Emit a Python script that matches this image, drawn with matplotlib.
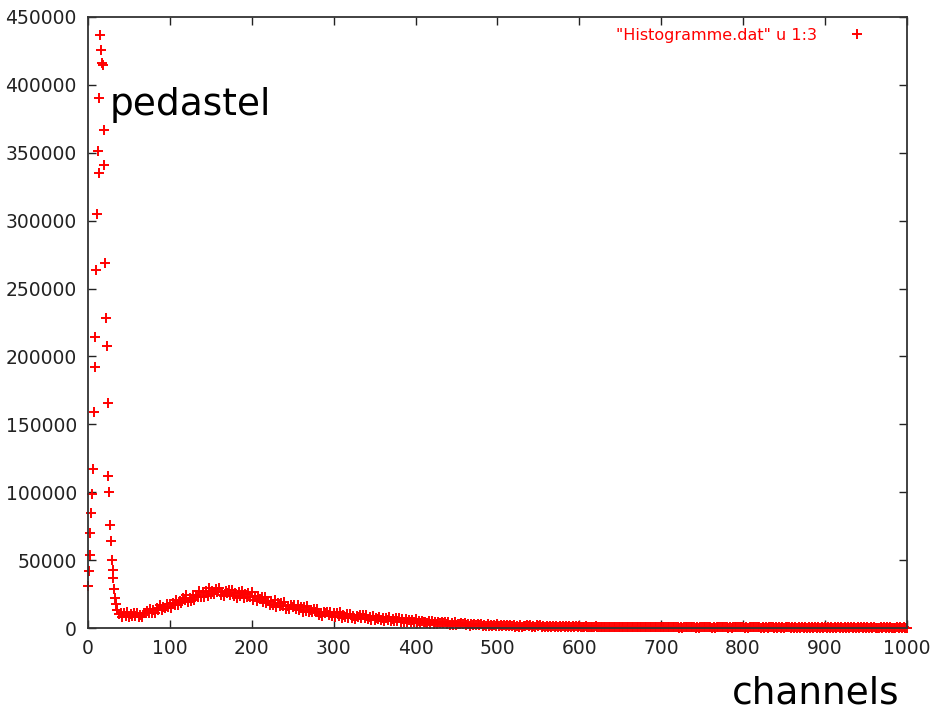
import matplotlib
matplotlib.use("Agg")
import matplotlib.pyplot as plt

plt.rcParams['font.family'] = ['DejaVu Sans']

# pedestal, channels 0..35
ped_channels = list(range(0, 36))
ped_counts = [31000, 42000, 54000, 70000, 85000, 99000, 117000, 159000, 192000, 214000,
              264000, 305000, 351000, 335000, 390000, 437000, 426000, 416000, 415000, 367000,
              341000, 269000, 228000, 208000, 166000, 112000, 100000, 76000, 64000, 50000,
              43000, 37000, 28500, 22000, 18000, 13000]

# rest of the spectrum, channels 36..1000 every 2
rest_channels = list(range(36, 1001, 2))
rest_counts = [
    13600, 10100, 11400, 8400, 11100,  9100, 11800, 8000, 10000, 9000,
    10700, 9100, 11400, 8300, 9800,  8200, 11000, 10700, 12700, 10700,
    13800, 11200, 13000, 11300, 14700,  13100, 16600, 13400, 15600, 14900,
    17900, 15500, 17600, 14700, 18400,  16600, 21000, 16600, 19900, 18200,
    22200, 20300, 24200, 19300, 22400,  20000, 24300, 21000, 24000, 22500,
    27000, 23000, 26200, 22700, 27000,  23700, 29400, 24700, 27300, 25300,
    28600, 26200, 29500, 24600, 26800,  23600, 27500, 25800, 27700, 24100,
    27800, 23400, 26000, 21800, 26300,  23400, 27600, 22000, 24800, 23100,
    25600, 23200, 26300, 20900, 23300,  19800, 23400, 21500, 23100, 19300,
    22800, 18400, 20100, 16800, 20200,  17200, 21000, 15500, 18200, 16100,
    18600, 16100, 19000, 14200, 16400,  13700, 16800, 15500, 17200, 14100,
    17100, 13500, 15200, 11800, 15200,  12800, 15900, 11700, 13300, 11900,
    13900, 11700, 14000, 9900, 11200,  9100, 11600, 11000, 12000, 9600,
    12000, 9100, 10800, 7900, 10900,  8900, 11600, 7700, 9500, 8400,
    10400, 7600, 10300, 7200, 8600,  6500, 9000, 8100, 9500, 7100,
    9400, 7600, 9400, 6400, 7800,  6000, 9100, 6000, 7600, 6400,
    8400, 5900, 7100, 5000, 7300,  5600, 7900, 4900, 6400, 5500,
    7200, 5000, 7200, 4700, 6300,  4200, 6900, 4400, 5700, 4700,
    6100, 4600, 6300, 3800, 4900,  3500, 5000, 4300, 4800, 3600,
    5000, 3300, 5000, 3100, 4500,  2900, 4500, 3700, 4500, 3500,
    4500, 3000, 4300, 2500, 3800,  2400, 4100, 2400, 3200, 2700,
    3500, 2700, 3700, 2100, 2800,  1700, 3000, 2500, 3200, 2000,
    3200, 2200, 3000, 1600, 2400,  1500, 2800, 1500, 2200, 1700,
    2500, 1800, 2600, 1300, 2000,  1400, 2300, 1800, 2300, 1500,
    2200, 1500, 2400, 1000, 1700,  1000, 2200, 1000, 1600, 1300,
    2000, 1300, 2000, 900, 1500,  1000, 1900, 1200, 1900, 1000,
    1700, 1100, 1800, 700, 1300,  600, 1700, 700, 1200, 900,
    1500, 1000, 1600, 600, 1200,  800, 1400, 900, 1400, 700,
    1400, 800, 1300, 600, 1000,
    700, 1200, 800, 1100, 600,  1100, 700, 1200, 500, 900,
    500, 1100, 700, 1100, 600,  1000, 700, 1100, 500, 800,
    500, 1100, 600, 1000, 700,  1000, 600, 1100, 400, 800,
    400, 1000, 600, 1000, 600,  900, 600, 1000, 400, 700,
    400, 1000, 500, 900, 600,  900, 500, 1000, 400, 700,
    400, 900, 500, 900, 500,  800, 500, 900, 300, 700,
    300, 900, 500, 800, 500,  800, 500, 900, 300, 600,
    300, 800, 400, 800, 500,  800, 400, 800, 300, 600,
    300, 800, 400, 700, 500,  700, 400, 800, 200, 600,
    300, 700, 400, 700, 400,  700, 400, 800, 200, 500,
    200, 700, 400, 700, 400,  700, 400, 700, 200, 500,
    200, 700, 300, 600, 400,  600, 300, 700, 200, 500,
    200, 600, 300, 600, 400,  600, 300, 700, 100, 500,
    200, 600, 300, 600, 300,  600, 300, 600, 100, 400,
    100, 600, 300, 500, 300,  500, 300, 600, 100, 400,
    100, 500, 200, 500, 300,  500, 200, 600, 100, 400,
    100, 500, 200, 500, 300,  500, 200, 500, 100, 400,
    100, 500, 200, 500, 300,  500, 200, 500, 100, 300,
    100, 500, 200, 400, 300,  400, 200, 500, 100, 300,
    100, 400, 200, 400, 300,  400, 200, 300,
]

channels = ped_channels + rest_channels
counts = ped_counts + rest_counts

x_ticks = list(range(0, 1001, 100))
y_ticks = list(range(0, 450001, 50000))

fig = plt.figure(figsize=(9.31, 7.17), dpi=100)
ax = fig.add_axes([0.0945, 0.1241, 0.8795, 0.8522])

ax.plot(channels, counts, linestyle='none', marker='+', color='red',
        markersize=7.5, markeredgewidth=1.4, clip_on=False,
        label='"Histogramme.dat" u 1:3')

ax.set_xlim(0, 1000)
ax.set_ylim(0, 450000)
ax.set_xticks(x_ticks)
ax.set_yticks(y_ticks)
ax.tick_params(direction='in', length=6, width=1, top=True, right=True,
               labelsize=13.5, colors='#222222')
ax.tick_params(axis='x', pad=8)
ax.tick_params(axis='y', pad=8)
for s in ax.spines.values():
    s.set_linewidth(1.3)
    s.set_color('#333333')

ax.text(27, 385000, 'pedastel', fontsize=27, ha='left', va='center')
fig.text(0.966, 0.033, 'channels', fontsize=27, ha='right', va='center')

ax.legend(loc='upper right', bbox_to_anchor=(0.966, 0.993), borderaxespad=0,
          markerfirst=False, frameon=False, labelcolor='red', fontsize=11.5,
          handlelength=2, handletextpad=1.45)

fig.savefig('out.png', dpi=100)
